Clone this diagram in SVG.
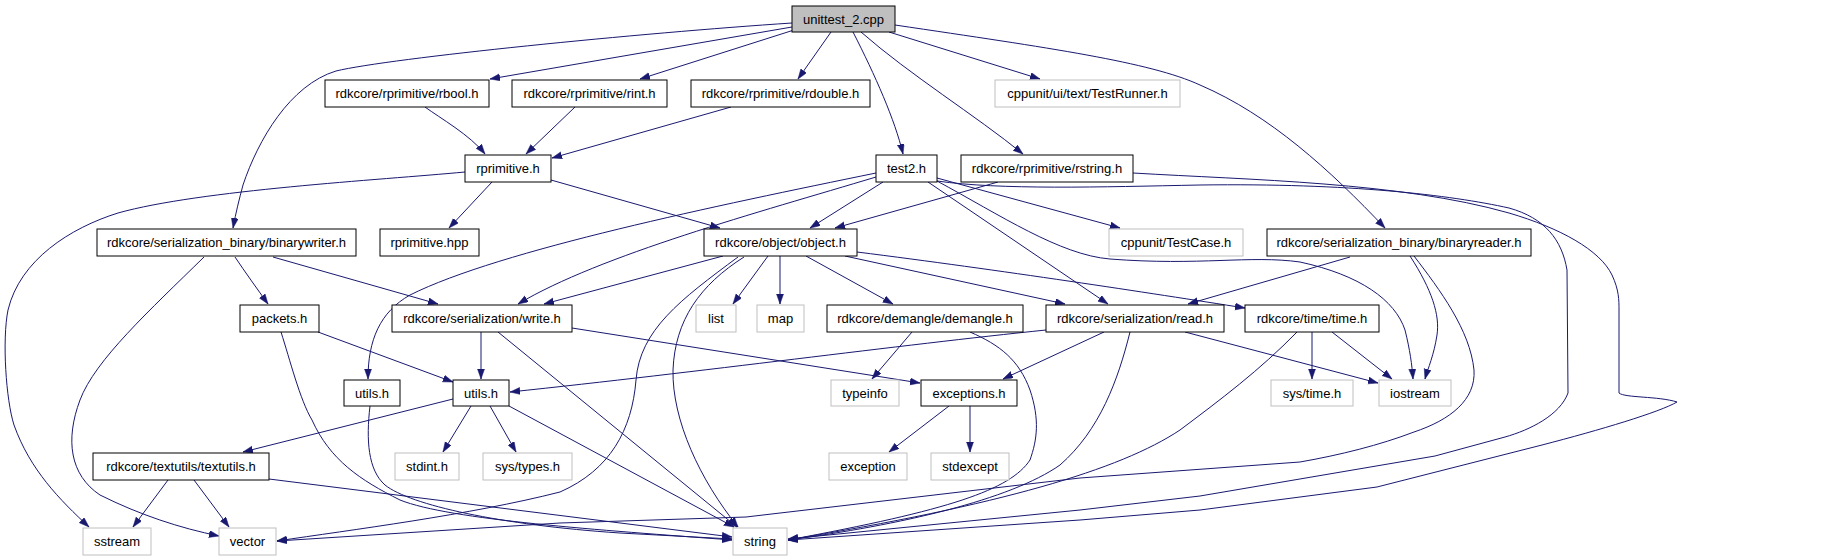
<svg xmlns="http://www.w3.org/2000/svg" width="1847" height="560" viewBox="0 0 1847 560">
<style>
.n rect{fill:#fff;stroke:#000;stroke-width:1}
.x rect{fill:#fff;stroke:#bfbfbf;stroke-width:1}
.r rect{fill:#bfbfbf;stroke:#000;stroke-width:1}
text{font-family:"Liberation Sans",Arial,sans-serif;font-size:13px;fill:#000;text-anchor:middle}
#edges path{fill:none;stroke:#191970;stroke-width:1;marker-end:url(#ah)}
</style>
<defs>
<marker id="ah" markerUnits="userSpaceOnUse" markerWidth="11" markerHeight="8" refX="10" refY="3.5" orient="auto">
<path d="M0,0 L10,3.5 L0,7 z" fill="#191970" stroke="#191970" stroke-width="0.5"/>
</marker>
</defs>
<rect width="1847" height="560" fill="#fff"/>
<g id="edges">
<path d="M792,27 L490,79"/>
<path d="M792,23 C640,33 390,58 336,71 C290,85 258,140 243,185 C239,200 236,212 233,228"/>
<path d="M794,30 L640,79"/>
<path d="M831,32 L798,79"/>
<path d="M853,32 C875,75 895,120 903,154"/>
<path d="M861,32 C910,75 975,115 1023,154"/>
<path d="M889,32 L1040,79"/>
<path d="M895,25 C1050,48 1150,62 1200,85 C1270,115 1330,170 1385,228"/>
<path d="M425,107 C440,118 470,135 485,154"/>
<path d="M575,107 L526,154"/>
<path d="M731,107 L552,158"/>
<path d="M465,172 C380,180 200,190 118,213 C70,228 20,260 8,310 C2,340 6,400 14,425 C30,470 60,500 89,527"/>
<path d="M492,182 L449,228"/>
<path d="M551,180 L720,228"/>
<path d="M883,182 L810,228"/>
<path d="M998,182 L835,228"/>
<path d="M876,177 C760,212 600,255 518,304"/>
<path d="M876,173 C720,205 500,250 410,295 C380,312 368,340 368,379"/>
<path d="M928,182 L1108,304"/>
<path d="M937,178 L1120,228"/>
<path d="M937,181 C1000,215 1060,255 1110,259 C1200,266 1250,255 1300,262 C1360,275 1395,300 1405,330 C1410,350 1412,365 1413,379"/>
<path d="M937,181 C1000,190 1100,187 1200,185 C1350,183 1450,195 1509,208 C1545,218 1562,240 1567,270 L1568,393 C1560,415 1530,430 1505,437 L1435,456 L1200,496 L1080,510 L788,539"/>
<path d="M1133,173 C1250,180 1400,182 1509,213 C1560,228 1600,250 1612,275 C1619,290 1619,300 1619,310 L1619,393 C1625,398 1658,396 1677,402 C1660,412 1600,430 1542,445 L1377,487 L1200,510 L1080,520 L788,540"/>
<path d="M1414,256 C1440,290 1470,330 1474,370 C1476,400 1450,420 1414,432 C1380,445 1340,455 1300,462 L1080,478 L746,517 L560,523 L277,541"/>
<path d="M1410,256 C1432,290 1440,315 1437,335 C1434,355 1428,368 1425,379"/>
<path d="M1350,257 L1188,304"/>
<path d="M857,252 C1000,270 1150,293 1245,308"/>
<path d="M845,256 L1065,304"/>
<path d="M806,256 L893,304"/>
<path d="M780,256 L780,304"/>
<path d="M768,256 L733,304"/>
<path d="M723,256 L544,304"/>
<path d="M744,257 C700,285 675,320 673,370 C672,420 700,480 738,527"/>
<path d="M738,257 C680,300 640,330 636,380 C632,430 610,470 560,492 C470,515 350,530 277,541"/>
<path d="M481,332 L481,379"/>
<path d="M572,328 L920,383"/>
<path d="M498,332 L737,527"/>
<path d="M1046,330 C900,345 700,372 510,392"/>
<path d="M1104,332 L1003,379"/>
<path d="M1185,332 L1378,383"/>
<path d="M1130,332 C1118,380 1100,430 1060,465 C1010,500 900,525 788,540"/>
<path d="M912,332 L872,379"/>
<path d="M970,332 C1000,345 1019,360 1030,390 C1040,420 1037,440 1030,460 C1010,490 950,510 788,540"/>
<path d="M1312,332 L1312,379"/>
<path d="M1332,332 L1392,379"/>
<path d="M1297,332 C1260,370 1220,400 1180,430 C1120,470 1000,505 788,540"/>
<path d="M949,406 L889,452"/>
<path d="M970,406 L970,452"/>
<path d="M370,406 C366,440 368,470 385,485 C410,505 500,525 620,533 L732,539"/>
<path d="M281,332 C290,360 300,400 312,420 C330,460 360,480 400,500 C450,520 600,530 732,540"/>
<path d="M318,332 L453,382"/>
<path d="M235,257 C245,272 258,290 268,304"/>
<path d="M273,257 L438,304"/>
<path d="M204,257 C150,310 95,360 80,400 C65,440 70,475 100,495 C140,515 180,528 219,536"/>
<path d="M168,480 L133,527"/>
<path d="M194,480 L229,527"/>
<path d="M269,479 L732,537"/>
<path d="M509,406 L734,527"/>
<path d="M453,399 L243,452"/>
<path d="M471,406 L443,452"/>
<path d="M490,406 L516,452"/>
</g>
<g id="unittest_2_cpp" class="r"><rect x="792" y="6" width="103" height="26"/><text x="843.5" y="23.5">unittest_2.cpp</text></g>
<g id="rbool_h" class="n"><rect x="325" y="80" width="164" height="27"/><text x="407" y="98">rdkcore/rprimitive/rbool.h</text></g>
<g id="rint_h" class="n"><rect x="512" y="80" width="155" height="27"/><text x="589.5" y="98">rdkcore/rprimitive/rint.h</text></g>
<g id="rdouble_h" class="n"><rect x="691" y="80" width="179" height="27"/><text x="780.5" y="98">rdkcore/rprimitive/rdouble.h</text></g>
<g id="TestRunner_h" class="x"><rect x="995" y="80" width="185" height="27"/><text x="1087.5" y="98">cppunit/ui/text/TestRunner.h</text></g>
<g id="rprimitive_h" class="n"><rect x="465" y="155" width="86" height="27"/><text x="508" y="173">rprimitive.h</text></g>
<g id="test2_h" class="n"><rect x="876" y="155" width="61" height="27"/><text x="906.5" y="173">test2.h</text></g>
<g id="rstring_h" class="n"><rect x="961" y="155" width="172" height="27"/><text x="1047" y="173">rdkcore/rprimitive/rstring.h</text></g>
<g id="binarywriter_h" class="n"><rect x="97" y="229" width="259" height="27"/><text x="226.5" y="247">rdkcore/serialization_binary/binarywriter.h</text></g>
<g id="rprimitive_hpp" class="n"><rect x="380" y="229" width="99" height="27"/><text x="429.5" y="247">rprimitive.hpp</text></g>
<g id="object_h" class="n"><rect x="704" y="229" width="153" height="27"/><text x="780.5" y="247">rdkcore/object/object.h</text></g>
<g id="TestCase_h" class="x"><rect x="1109" y="229" width="134" height="27"/><text x="1176" y="247">cppunit/TestCase.h</text></g>
<g id="binaryreader_h" class="n"><rect x="1267" y="229" width="264" height="27"/><text x="1399" y="247">rdkcore/serialization_binary/binaryreader.h</text></g>
<g id="packets_h" class="n"><rect x="240" y="305" width="79" height="27"/><text x="279.5" y="323">packets.h</text></g>
<g id="write_h" class="n"><rect x="392" y="305" width="180" height="27"/><text x="482" y="323">rdkcore/serialization/write.h</text></g>
<g id="list" class="x"><rect x="696" y="305" width="40" height="27"/><text x="716" y="323">list</text></g>
<g id="map" class="x"><rect x="757" y="305" width="47" height="27"/><text x="780.5" y="323">map</text></g>
<g id="demangle_h" class="n"><rect x="827" y="305" width="196" height="27"/><text x="925" y="323">rdkcore/demangle/demangle.h</text></g>
<g id="read_h" class="n"><rect x="1046" y="305" width="178" height="27"/><text x="1135" y="323">rdkcore/serialization/read.h</text></g>
<g id="time_h" class="n"><rect x="1245" y="305" width="134" height="27"/><text x="1312" y="323">rdkcore/time/time.h</text></g>
<g id="utils_h_1" class="n"><rect x="344" y="380" width="56" height="26"/><text x="372" y="397.5">utils.h</text></g>
<g id="utils_h_2" class="n"><rect x="453" y="380" width="56" height="26"/><text x="481" y="397.5">utils.h</text></g>
<g id="typeinfo" class="x"><rect x="831" y="380" width="68" height="26"/><text x="865" y="397.5">typeinfo</text></g>
<g id="exceptions_h" class="n"><rect x="921" y="380" width="96" height="26"/><text x="969" y="397.5">exceptions.h</text></g>
<g id="sys_time_h" class="x"><rect x="1271" y="380" width="82" height="26"/><text x="1312" y="397.5">sys/time.h</text></g>
<g id="iostream" class="x"><rect x="1379" y="380" width="72" height="26"/><text x="1415" y="397.5">iostream</text></g>
<g id="textutils_h" class="n"><rect x="93" y="453" width="176" height="27"/><text x="181" y="471">rdkcore/textutils/textutils.h</text></g>
<g id="stdint_h" class="x"><rect x="395" y="453" width="64" height="27"/><text x="427" y="471">stdint.h</text></g>
<g id="sys_types_h" class="x"><rect x="483" y="453" width="89" height="27"/><text x="527.5" y="471">sys/types.h</text></g>
<g id="exception" class="x"><rect x="829" y="453" width="78" height="27"/><text x="868" y="471">exception</text></g>
<g id="stdexcept" class="x"><rect x="931" y="453" width="78" height="27"/><text x="970" y="471">stdexcept</text></g>
<g id="sstream" class="x"><rect x="83" y="528" width="68" height="27"/><text x="117" y="546">sstream</text></g>
<g id="vector" class="x"><rect x="219" y="528" width="57" height="27"/><text x="247.5" y="546">vector</text></g>
<g id="string" class="x"><rect x="733" y="528" width="54" height="27"/><text x="760" y="546">string</text></g>
</svg>
